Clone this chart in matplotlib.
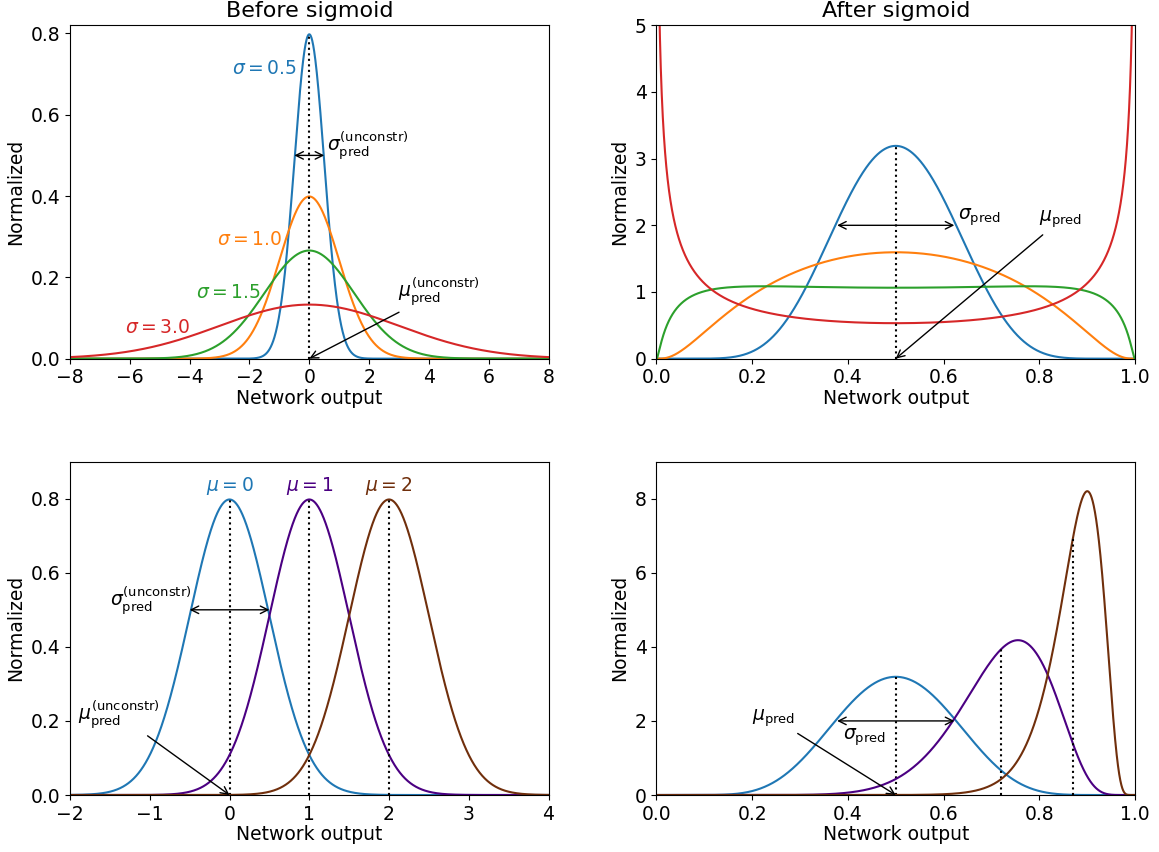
import numpy as np
import matplotlib
matplotlib.use("Agg")
import matplotlib.pyplot as plt

# widths of the unconstrained gaussians (top row), all centred at 0
sigmas = [0.5, 1.0, 1.5, 3.0]
sigma_colors = ["tab:blue", "tab:orange", "tab:green", "tab:red"]
sigma_label_pos = [(-2.6, 0.70), (-3.1, 0.28), (-3.8, 0.15), (-6.15, 0.063)]

# shifted means (bottom row), all with the same width
mus = [0, 1, 2]
mu_sigma = 0.5
mu_colors = ["tab:blue", "indigo", "#702f0c"]

x_lims_before = [(-8, 8), (-2, 4)]
y_lims_before = [0.82, 0.9]
y_lims_after = [5, 9]

sig_un = r"$\sigma_\mathrm{pred}^\mathrm{(unconstr)}$"
mu_un = r"$\mu_\mathrm{pred}^\mathrm{(unconstr)}$"
sig_c = r"$\sigma_\mathrm{pred}$"
mu_c = r"$\mu_\mathrm{pred}$"


def gauss(x, mu, s):
    return np.exp(-0.5 * ((x - mu) / s) ** 2) / (s * np.sqrt(2 * np.pi))


def logit_normal(p, mu, s):
    return gauss(np.log(p / (1 - p)), mu, s) / (p * (1 - p))


def sigmoid(z):
    return 1 / (1 + np.exp(-z))


plt.rcParams["font.size"] = 13.5
fig, axes = plt.subplots(2, 2, figsize=(11.59, 8.52), dpi=100)
fig.subplots_adjust(left=0.0604, right=0.9793, top=0.9703, bottom=0.0669,
                    wspace=0.2255, hspace=0.309)

p = np.linspace(1e-5, 1 - 1e-5, 4000)
arrow2 = dict(arrowstyle="<->", color="k", lw=1.0, shrinkA=0, shrinkB=0)
arrow1 = dict(arrowstyle="->", color="k", lw=1.0, shrinkB=0)

# ---- top row: varying sigma ----
ax = axes[0, 0]
x = np.linspace(*x_lims_before[0], 2000)
for s, c, pos in zip(sigmas, sigma_colors, sigma_label_pos):
    ax.plot(x, gauss(x, 0, s), color=c)
    ax.text(pos[0], pos[1], r"$\sigma = %.1f$" % s, color=c)
ax.plot([0, 0], [0, gauss(0, 0, sigmas[0])], "k:")
ax.annotate("", xy=(-sigmas[0], 0.5), xytext=(sigmas[0], 0.5), arrowprops=arrow2)
ax.text(0.6, 0.51, sig_un)
ax.annotate(mu_un, xy=(0, 0), xytext=(2.95, 0.15), arrowprops=arrow1)
ax.set_xlim(*x_lims_before[0])
ax.set_ylim(0, y_lims_before[0])
ax.set_yticks(np.arange(0, 0.81, 0.2))
ax.set_title("Before sigmoid", fontsize=16)

ax = axes[0, 1]
for s, c in zip(sigmas, sigma_colors):
    ax.plot(p, logit_normal(p, 0, s), color=c)
ax.plot([0.5, 0.5], [0, logit_normal(0.5, 0, sigmas[0])], "k:")
ax.annotate("", xy=(sigmoid(-sigmas[0]), 2), xytext=(sigmoid(sigmas[0]), 2),
            arrowprops=arrow2)
ax.text(0.63, 2.08, sig_c)
ax.annotate(mu_c, xy=(0.5, 0), xytext=(0.8, 2.05), arrowprops=arrow1)
ax.set_xlim(0, 1)
ax.set_ylim(0, y_lims_after[0])
ax.set_title("After sigmoid", fontsize=16)

# ---- bottom row: varying mu ----
ax = axes[1, 0]
x = np.linspace(*x_lims_before[1], 2000)
for m, c in zip(mus, mu_colors):
    ax.plot(x, gauss(x, m, mu_sigma), color=c)
    ax.plot([m, m], [0, gauss(m, m, mu_sigma)], "k:")
    ax.text(m, 0.82, r"$\mu = %d$" % m, color=c, ha="center")
ax.annotate("", xy=(mus[0] - mu_sigma, 0.5), xytext=(mus[0] + mu_sigma, 0.5),
            arrowprops=arrow2)
ax.text(-1.5, 0.51, sig_un)
ax.annotate(mu_un, xy=(0, 0), xytext=(-1.9, 0.2), arrowprops=arrow1)
ax.set_xlim(*x_lims_before[1])
ax.set_ylim(0, y_lims_before[1])
ax.set_yticks(np.arange(0, 0.81, 0.2))

ax = axes[1, 1]
for m, c in zip(mus, mu_colors):
    dens = logit_normal(p, m, mu_sigma)
    ax.plot(p, dens, color=c)
    mean = np.trapezoid(p * dens, p) / np.trapezoid(dens, p)
    ax.plot([mean, mean], [0, logit_normal(mean, m, mu_sigma)], "k:")
ax.annotate("", xy=(sigmoid(-mu_sigma), 2), xytext=(sigmoid(mu_sigma), 2),
            arrowprops=arrow2)
ax.text(0.39, 1.5, sig_c)
ax.annotate(mu_c, xy=(0.5, 0), xytext=(0.2, 2.0), arrowprops=arrow1)
ax.set_xlim(0, 1)
ax.set_ylim(0, y_lims_after[1])
ax.set_yticks(np.arange(0, 9, 2))

for ax in axes.flat:
    ax.set_xlabel("Network output", labelpad=1)
    ax.set_ylabel("Normalized")

fig.savefig("out.png", dpi=100)
